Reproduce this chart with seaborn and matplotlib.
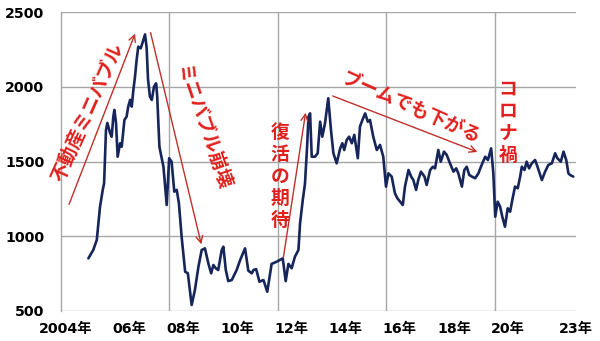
import matplotlib
matplotlib.use("Agg")
import matplotlib.pyplot as plt
import seaborn as sns
import pandas as pd

# ---- data ----
years = [
    2005.01, 2005.19, 2005.32, 2005.44, 2005.54, 2005.59, 2005.66, 2005.71, 2005.81, 2005.87,
    2005.93, 2005.97, 2006.03, 2006.09, 2006.18, 2006.24, 2006.34, 2006.42, 2006.48, 2006.55,
    2006.61, 2006.67, 2006.73, 2006.79, 2006.85, 2006.94, 2007.00, 2007.10, 2007.16, 2007.21,
    2007.28, 2007.35, 2007.43, 2007.51, 2007.55, 2007.63, 2007.69, 2007.78, 2007.90, 2007.99,
    2008.08, 2008.18, 2008.27, 2008.35, 2008.45, 2008.58, 2008.68, 2008.82, 2008.94, 2009.07,
    2009.19, 2009.31, 2009.44, 2009.54, 2009.62, 2009.71, 2009.80, 2009.93, 2009.99, 2010.08,
    2010.17, 2010.30, 2010.48, 2010.61, 2010.79, 2010.91, 2011.04, 2011.10, 2011.20, 2011.32,
    2011.47, 2011.61, 2011.77, 2011.96, 2012.18, 2012.29, 2012.39, 2012.51, 2012.63, 2012.76,
    2012.82, 2012.92, 2013.00, 2013.08, 2013.13, 2013.19, 2013.25, 2013.37, 2013.47, 2013.56,
    2013.64, 2013.74, 2013.86, 2013.96, 2014.05, 2014.17, 2014.30, 2014.38, 2014.45, 2014.54,
    2014.63, 2014.73, 2014.82, 2014.95, 2015.03, 2015.12, 2015.22, 2015.32, 2015.40, 2015.52,
    2015.65, 2015.77, 2015.89, 2015.99, 2016.08, 2016.20, 2016.32, 2016.41, 2016.51, 2016.61,
    2016.69, 2016.82, 2016.92, 2017.00, 2017.10, 2017.18, 2017.28, 2017.41, 2017.49, 2017.62,
    2017.72, 2017.80, 2017.92, 2018.01, 2018.13, 2018.23, 2018.35, 2018.48, 2018.58, 2018.66,
    2018.79, 2018.88, 2018.97, 2019.06, 2019.16, 2019.28, 2019.40, 2019.52, 2019.65, 2019.75,
    2019.87, 2019.95, 2020.02, 2020.11, 2020.20, 2020.28, 2020.38, 2020.48, 2020.57, 2020.65,
    2020.75, 2020.85, 2020.94, 2021.00, 2021.10, 2021.18, 2021.27, 2021.37, 2021.49, 2021.58,
    2021.74, 2021.86, 2021.98, 2022.11, 2022.23, 2022.31, 2022.44, 2022.54, 2022.64, 2022.72,
    2022.78, 2022.90,
]
values = [
    852, 908, 975, 1198, 1310, 1354, 1711, 1758, 1691, 1666,
    1800, 1845, 1758, 1532, 1622, 1599, 1778, 1800, 1867, 1912,
    1867, 1978, 2067, 2179, 2268, 2257, 2290, 2350, 2260, 2050,
    1934, 1912, 2000, 2023, 1934, 1600, 1544, 1465, 1209, 1522,
    1499, 1298, 1310, 1220, 997, 763, 752, 540, 640, 796,
    908, 919, 815, 752, 808, 786, 774, 908, 930, 774,
    700, 707, 774, 841, 919, 770, 752, 774, 780, 696,
    707, 629, 815, 830, 852, 700, 815, 786, 863, 908,
    1087, 1243, 1350, 1600, 1800, 1822, 1532, 1532, 1555, 1766,
    1666, 1756, 1923, 1711, 1555, 1488, 1588, 1622, 1577, 1644,
    1666, 1622, 1678, 1522, 1733, 1778, 1822, 1766, 1778, 1666,
    1577, 1611, 1532, 1332, 1421, 1399, 1287, 1254, 1231, 1209,
    1332, 1443, 1399, 1376, 1310, 1376, 1432, 1399, 1343, 1443,
    1465, 1454, 1577, 1499, 1566, 1544, 1488, 1432, 1454, 1420,
    1332, 1443, 1465, 1410, 1399, 1388, 1421, 1477, 1532, 1510,
    1588, 1421, 1131, 1231, 1198, 1131, 1064, 1187, 1164, 1243,
    1332, 1321, 1399, 1465, 1443, 1499, 1454, 1488, 1510, 1465,
    1376, 1432, 1477, 1488, 1555, 1522, 1499, 1566, 1510, 1421,
    1410, 1399,
]
ytick_values = [500, 1000, 1500, 2000, 2500]
xtick_labels = ["2004年", "06年", "08年", "10年", "12年", "14年", "16年", "18年", "20年", "23年"]
xtick_pos = [2004.15, 2006.5, 2008.5, 2010.5, 2012.5, 2014.5, 2016.5, 2018.5, 2020.5, 2022.99]
grid_years = [2008, 2012, 2016, 2020]

df = pd.DataFrame({"year": years, "value": values})

sns.set_theme(style="white")
plt.rcParams["font.family"] = ["DejaVu Sans", "Noto Sans CJK JP"]

fig = plt.figure(figsize=(6.0, 3.41), dpi=100)
ax = fig.add_axes([61 / 600, 1 - 311 / 341, (576 - 61) / 600, (311 - 12) / 341])

GRID = "#a6a6a6"
LINE = "#16255a"
RED = "#e0201c"
ARROW = "#c0302a"

sns.lineplot(data=df, x="year", y="value", sort=False, color=LINE, linewidth=1.9, ax=ax, zorder=3)

ax.set_xlim(2004.0, 2023.0)
ax.set_ylim(500, 2500)
ax.set_yticks(ytick_values)
ax.set_yticklabels([str(v) for v in ytick_values])
ax.set_xticks(xtick_pos)
ax.set_xticklabels(xtick_labels)
ax.set_xticks(grid_years, minor=True)
ax.set_xlabel("")
ax.set_ylabel("")

ax.yaxis.grid(True, color=GRID, linewidth=1.0)
ax.xaxis.grid(True, which="minor", color=GRID, linewidth=1.0)
ax.xaxis.grid(False, which="major")
ax.tick_params(axis="both", which="both", length=0)
ax.tick_params(axis="y", pad=12)
ax.tick_params(axis="x", pad=8)
for lab in ax.get_xticklabels() + ax.get_yticklabels():
    lab.set_fontweight("bold")
    lab.set_fontsize(10.2)
    lab.set_color("black")
    lab.set_family(["DejaVu Sans", "Noto Sans CJK JP"])

for side in ["top", "right", "bottom"]:
    ax.spines[side].set_visible(False)
ax.spines["left"].set_color(GRID)
ax.spines["left"].set_linewidth(1.0)

arrow_kw = dict(arrowstyle="->", color=ARROW, lw=1.0, mutation_scale=12)
jp = ["Noto Sans CJK JP"]
FS = 13.5

# 不動産ミニバブル
ax.annotate("", xy=(2006.77, 2373), xytext=(2004.26, 1196), arrowprops=arrow_kw, zorder=4)
ax.text(2005.0, 1831, "不動産ミニバブル", rotation=66, color=RED, fontsize=FS, fontweight="bold",
        family=jp, ha="center", va="center", rotation_mode="anchor")

# ミニバブル崩壊
ax.annotate("", xy=(2009.20, 928), xytext=(2007.28, 2380), arrowprops=arrow_kw, zorder=4)
ax.text(2009.24, 1724, "ミニバブル崩壊", rotation=-71, color=RED, fontsize=FS, fontweight="bold",
        family=jp, ha="center", va="center", rotation_mode="anchor")

# 復活の期待
ax.annotate("", xy=(2013.04, 1845), xytext=(2012.19, 841), arrowprops=arrow_kw, zorder=4)
ax.text(2012.08, 1400, "復\n活\nの\n期\n待", color=RED, fontsize=FS, fontweight="bold",
        family=jp, ha="center", va="center", linespacing=1.2)

# ブームでも下がる
ax.annotate("", xy=(2019.46, 1557), xytext=(2013.93, 1945), arrowprops=arrow_kw, zorder=4)
ax.text(2016.88, 1858, "ブームでも下がる", rotation=-24, color=RED, fontsize=FS, fontweight="bold",
        family=jp, ha="center", va="center", rotation_mode="anchor")

# コロナ禍
ax.text(2020.49, 1764, "コ\nロ\nナ\n禍", color=RED, fontsize=FS, fontweight="bold",
        family=jp, ha="center", va="center", linespacing=1.2)

fig.savefig("out.png", dpi=100)
